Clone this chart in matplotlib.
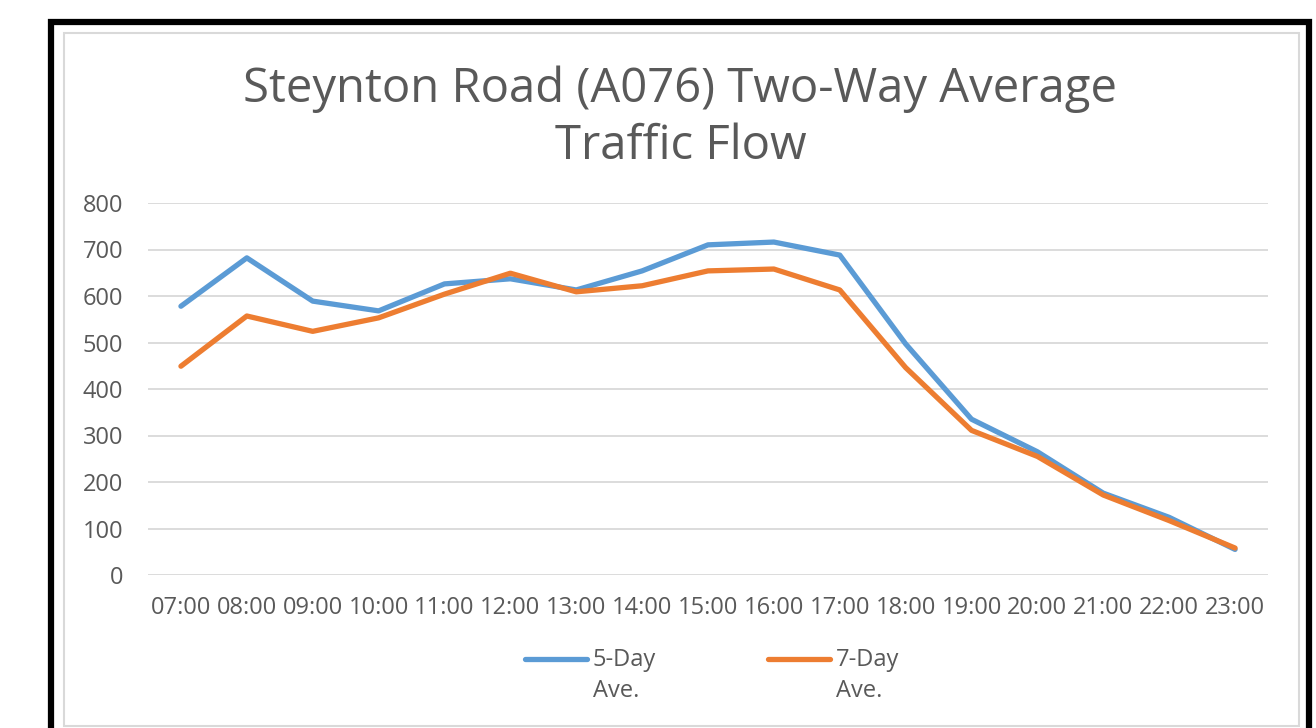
import matplotlib
matplotlib.use('Agg')
import matplotlib.pyplot as plt
from matplotlib.patches import Rectangle
from matplotlib.lines import Line2D

plt.rcParams['font.family'] = ['Open Sans', 'DejaVu Sans']

hours = ['07:00', '08:00', '09:00', '10:00', '11:00', '12:00', '13:00', '14:00',
         '15:00', '16:00', '17:00', '18:00', '19:00', '20:00', '21:00', '22:00', '23:00']
five_day = [578, 682, 589, 568, 626, 637, 613, 654, 710, 716, 688, 497, 335, 265, 176, 124, 55]
seven_day = [449, 557, 524, 553, 604, 649, 609, 622, 654, 658, 613, 446, 311, 255, 172, 117, 58]
series_labels = ['5-Day\nAve.', '7-Day\nAve.']
series_colors = ['#5B9BD5', '#ED7D31']

text_grey = '#595959'

W, H = 1316.0, 728.0
fig = plt.figure(figsize=(W / 100, H / 100), dpi=100)

# frames: outer black, inner light grey chart border
fig.patches.append(Rectangle((51 / W, -0.05), (1309 - 51) / W, (H - 22) / H + 0.05,
                             transform=fig.transFigure, fill=False,
                             edgecolor='black', linewidth=4.5, zorder=0))
fig.patches.append(Rectangle((63.5 / W, 1 - 726 / H), (1299 - 63.5) / W, (726 - 32.5) / H,
                             transform=fig.transFigure, fill=False,
                             edgecolor='#D9D9D9', linewidth=1.5, zorder=0))

ax = fig.add_axes([148 / W, 1 - 575 / H, (1268 - 148) / W, (575 - 203) / H])
x = range(len(hours))
for vals, col in zip([five_day, seven_day], series_colors):
    ax.plot(x, vals, color=col, linewidth=3.8, solid_capstyle='round',
            solid_joinstyle='round', zorder=3)

ax.set_xlim(-0.5, len(hours) - 0.5)
ax.set_ylim(0, 800)
ax.set_yticks(range(0, 801, 100))
ax.set_xticks(list(x))
ax.set_xticklabels(hours)
ax.grid(axis='y', color='#D9D9D9', linewidth=1.3)
ax.set_axisbelow(True)
for s in ax.spines.values():
    s.set_visible(False)
ax.tick_params(length=0, labelsize=17, colors=text_grey)
ax.tick_params(axis='y', pad=18)
ax.tick_params(axis='x', pad=15)

fig.text(0.517, 1 - 118 / H, 'Steynton Road (A076) Two-Way Average\nTraffic Flow',
         ha='center', va='center', fontsize=34, color=text_grey, linespacing=1.27)

# legend drawn by hand so the line sits on the first text line
leg_x = [525, 768]
for lx, lab, col in zip(leg_x, series_labels, series_colors):
    fig.add_artist(Line2D([lx / W, (lx + 62) / W], [1 - 659 / H] * 2,
                          transform=fig.transFigure, color=col, linewidth=3.8,
                          solid_capstyle='round'))
    fig.text((lx + 68) / W, 1 - 648 / H, lab, ha='left', va='top',
             fontsize=17, color=text_grey, linespacing=1.38)

fig.savefig('out.png', dpi=100, facecolor='white')
